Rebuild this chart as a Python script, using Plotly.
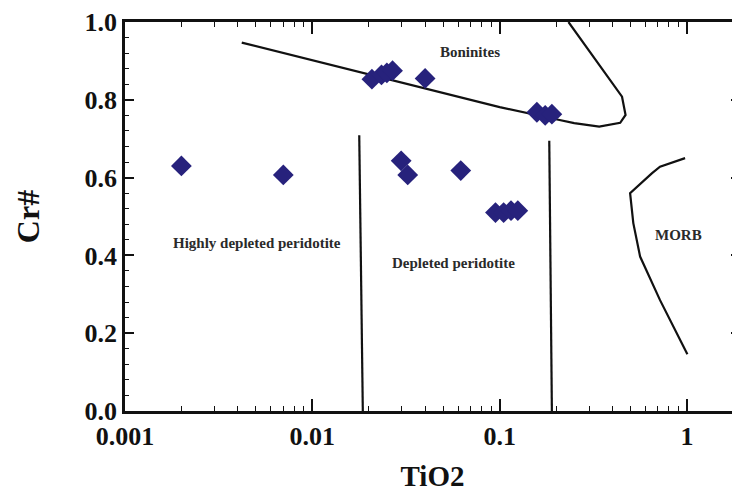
#
# Cr# vs TiO2 discrimination diagram for spinels (peridotite / boninite / MORB fields)
#

import numpy as np
import plotly.graph_objects as go

# Sample points
tio2 = [0.002, 0.007, 0.0298, 0.0323, 0.062,
        0.0208, 0.0234, 0.025, 0.0268, 0.040,
        0.158, 0.175, 0.19,
        0.095, 0.105, 0.115, 0.125]
cr_num = [0.63, 0.607, 0.643, 0.607, 0.618,
          0.853, 0.864, 0.869, 0.875, 0.855,
          0.768, 0.76, 0.763,
          0.51, 0.51, 0.515, 0.515]

# Field boundaries
bon_x = [0.0042, 0.1, 0.2, 0.25, 0.34, 0.44, 0.47, 0.45, 0.233]
bon_y = [0.947, 0.781, 0.75, 0.74, 0.731, 0.741, 0.761, 0.808, 1.0]

hdp_x = [0.0178, 0.0186]
hdp_y = [0.709, 0.0]

dp_x = [0.184, 0.19]
dp_y = [0.695, 0.0]

morb_x = [0.977, 0.718, 0.649, 0.497, 0.517, 0.562, 0.718, 1.005]
morb_y = [0.65, 0.628, 0.611, 0.56, 0.483, 0.397, 0.285, 0.146]

# Field labels
lab_text = ['Boninites', 'Highly depleted peridotite', 'Depleted peridotite', 'MORB']
lab_x = [0.0695, 0.00505, 0.0566, 0.897]
lab_y = [0.924, 0.433, 0.381, 0.452]

SERIF = 'Liberation Serif'
BLACK = '#111111'
XR = [-3, 0.283]

fig = go.Figure()

for xs, ys in [(bon_x, bon_y), (hdp_x, hdp_y), (dp_x, dp_y), (morb_x, morb_y)]:
    fig.add_trace(go.Scatter(x=xs, y=ys, mode='lines',
                             line=dict(color=BLACK, width=2.2),
                             hoverinfo='skip'))

fig.add_trace(go.Scatter(
    x=tio2, y=cr_num, mode='markers',
    marker=dict(symbol='diamond', size=16, color='#27227c',
                line=dict(width=0)),
))

# invisible copy so the top/right tick axes get drawn
fig.add_trace(go.Scatter(x=tio2, y=cr_num, xaxis='x2', yaxis='y2',
                         mode='markers', marker=dict(opacity=0),
                         hoverinfo='skip'))

for t, x, y in zip(lab_text, lab_x, lab_y):
    fig.add_annotation(x=np.log10(x), y=y, xref='x', yref='y',
                       text='<b>' + t + '</b>', showarrow=False,
                       font=dict(family=SERIF, size=15, color='#2a2a2a'))

xticks = dict(
    type='log', range=XR, dtick=1,
    ticks='inside', ticklen=12, tickwidth=1.6, tickcolor=BLACK,
    minor=dict(ticks='inside', dtick='D1', ticklen=5, tickwidth=1.3,
               tickcolor=BLACK),
    showline=True, linewidth=2.5, linecolor=BLACK,
    showgrid=False, zeroline=False, automargin=False,
)
yticks = dict(
    range=[0, 1], dtick=0.2, tickformat='.1f',
    ticks='inside', ticklen=9, tickwidth=1.6, tickcolor=BLACK,
    minor=dict(dtick=0.04, ticks='inside', ticklen=4, tickwidth=1.3,
               tickcolor=BLACK),
    showline=True, linewidth=2.5, linecolor=BLACK,
    showgrid=False, zeroline=False, automargin=False,
)

fig.update_layout(
    xaxis=dict(**xticks,
               tickfont=dict(family=SERIF, size=26, color=BLACK, weight='bold'),
               title=dict(text='TiO2', standoff=16,
                          font=dict(family=SERIF, size=29, color=BLACK,
                                    weight='bold'))),
    yaxis=dict(**yticks,
               tickfont=dict(family=SERIF, size=26, color=BLACK, weight='bold'),
               title=dict(text='Cr#', standoff=36,
                          font=dict(family=SERIF, size=32, color=BLACK,
                                    weight='bold'))),
    xaxis2=dict(**xticks, overlaying='x', side='top', showticklabels=False),
    yaxis2=dict(**yticks, overlaying='y', side='right', showticklabels=False),
    width=740, height=490,
    # page has an 8px body margin, so the figure sits 8px right/down
    margin=dict(l=117, r=8, t=14, b=87),
    plot_bgcolor='white', paper_bgcolor='white',
    showlegend=False,
    font=dict(family=SERIF),
)

fig.write_html("out.html")
